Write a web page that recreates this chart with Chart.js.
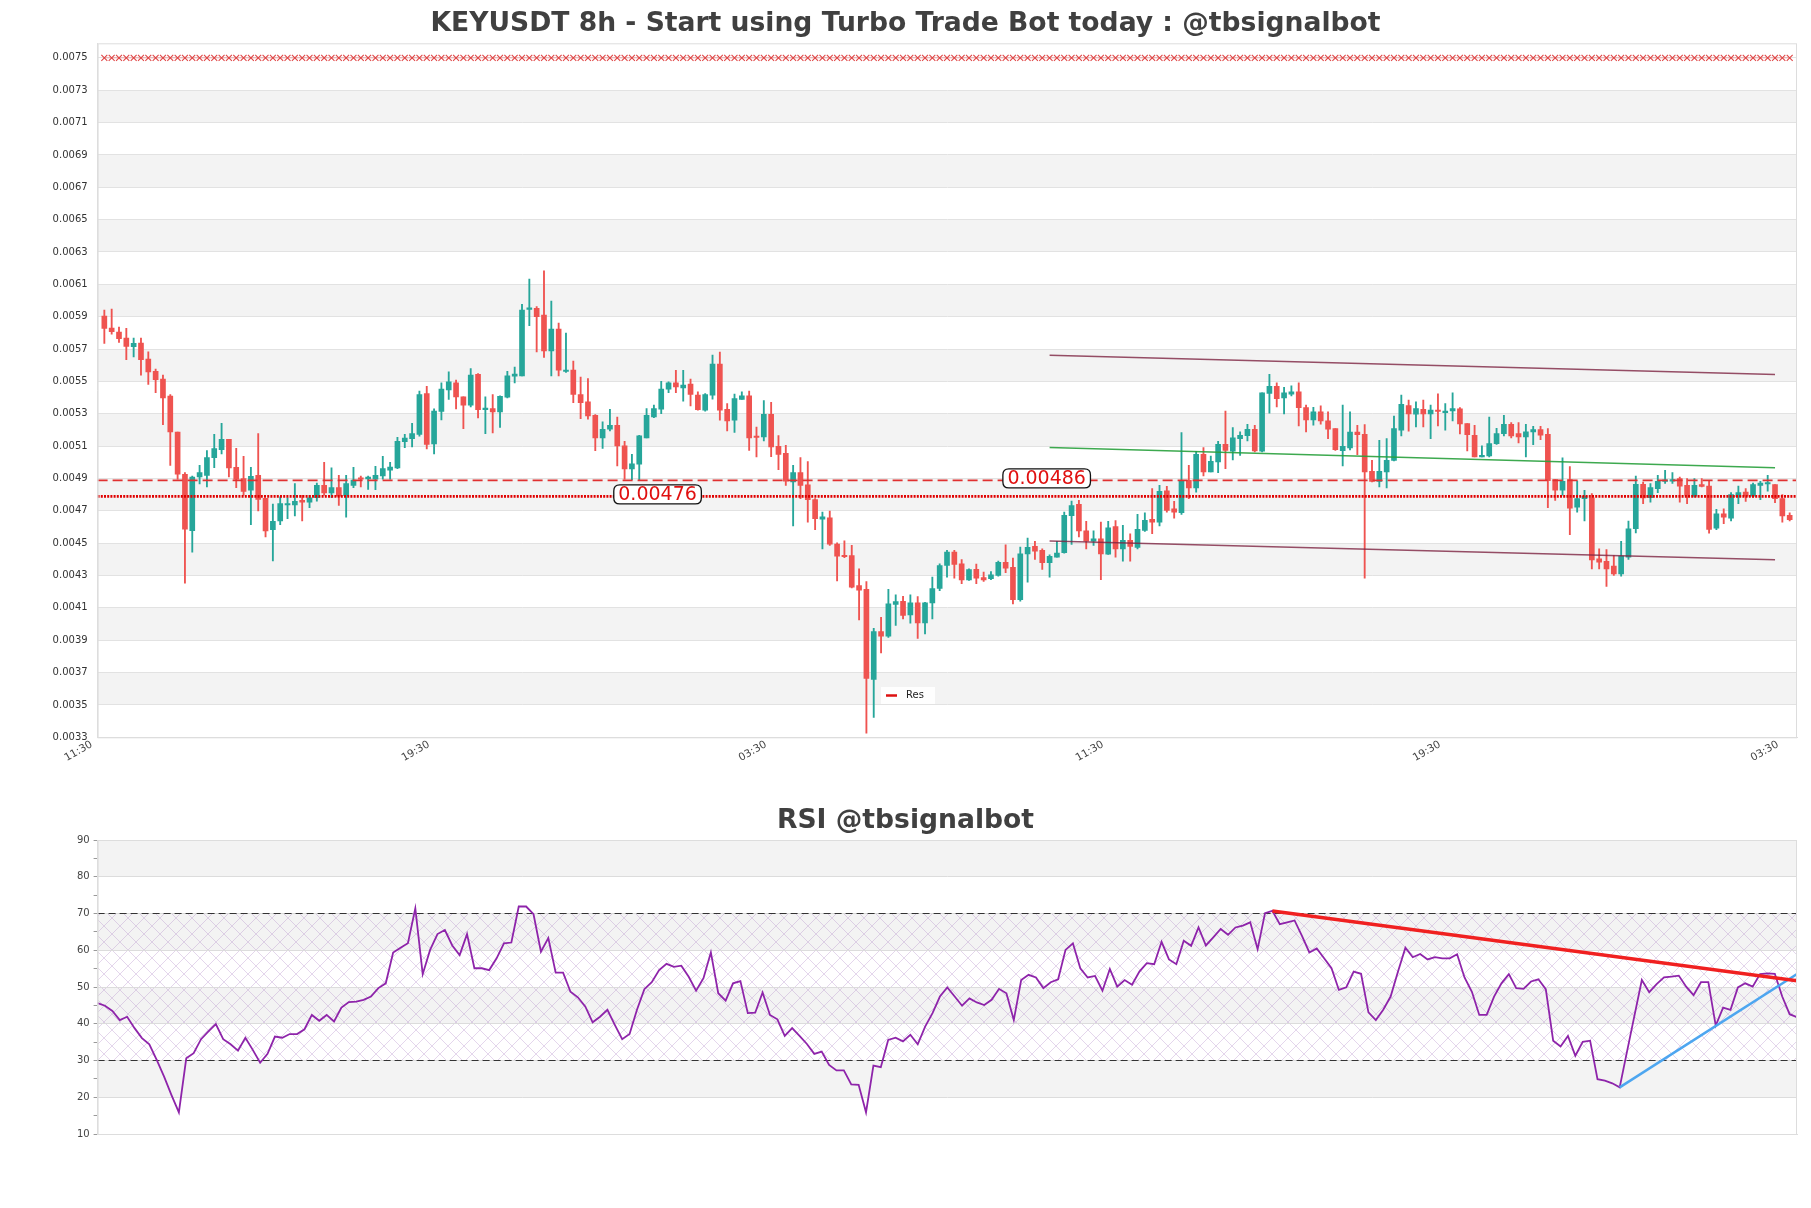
<!DOCTYPE html>
<html>
<head>
<meta charset="utf-8">
<title>KEYUSDT 8h</title>
<script src="https://cdn.jsdelivr.net/npm/chart.js@4.4.1/dist/chart.umd.min.js"></script>
<style>
  html, body { margin: 0; padding: 0; background: #fff; }
  #wrap { position: relative; width: 1811px; height: 1208px; }
  canvas { position: absolute; left: 0; }
  #priceChart { top: 0; }
  #rsiChart { top: 790px; }
</style>
</head>
<body>
<div id="wrap">
  <canvas id="priceChart" width="1811" height="790"></canvas>
  <canvas id="rsiChart" width="1811" height="418"></canvas>
</div>
<script>
// candle data (one candle per index)
const open = [
0.005904,0.005830,0.005805,0.005768,0.005714,0.005737,0.005638,0.005563,0.005514,0.005409,
0.005186,0.004926,0.004577,0.004909,0.004919,0.005029,0.005078,0.005142,0.004969,0.004899,
0.004827,0.004919,0.004777,0.004583,0.004637,0.004736,0.004736,0.004765,0.004754,0.004781,
0.004857,0.004810,0.004843,0.004794,0.004857,0.004903,0.004897,0.004895,0.004915,0.004952,
0.004965,0.005128,0.005146,0.005173,0.005425,0.005113,0.005314,0.005448,0.005491,0.005404,
0.005353,0.005543,0.005326,0.005332,0.005312,0.005402,0.005532,0.005534,0.005945,0.005951,
0.005910,0.005689,0.005823,0.005561,0.005570,0.005419,0.005373,0.005291,0.005151,0.005204,
0.005229,0.005101,0.004959,0.004988,0.005151,0.005281,0.005328,0.005452,0.005491,0.005460,
0.005483,0.005415,0.005322,0.005415,0.005607,0.005328,0.005260,0.005388,0.005411,0.005159,
0.005157,0.005297,0.005099,0.005056,0.004878,0.004936,0.004860,0.004769,0.004649,0.004657,
0.004494,0.004422,0.004424,0.004238,0.004214,0.003658,0.003953,0.003925,0.004121,0.004141,
0.004057,0.004131,0.004007,0.004131,0.004220,0.004362,0.004445,0.004372,0.004273,0.004339,
0.004288,0.004280,0.004300,0.004381,0.004350,0.004150,0.004434,0.004480,0.004455,0.004379,
0.004414,0.004441,0.004670,0.004740,0.004577,0.004513,0.004527,0.004432,0.004602,0.004465,
0.004517,0.004474,0.004579,0.004647,0.004630,0.004824,0.004713,0.004688,0.004888,0.004841,
0.005049,0.004940,0.005002,0.005111,0.005068,0.005146,0.005165,0.005204,0.005068,0.005425,
0.005470,0.005398,0.005421,0.005435,0.005338,0.005262,0.005312,0.005256,0.005208,0.005072,
0.005089,0.005186,0.005173,0.004944,0.004882,0.004940,0.005012,0.005198,0.005351,0.005297,
0.005328,0.005299,0.005322,0.005307,0.005318,0.005330,0.005239,0.005167,0.005033,0.005039,
0.005115,0.005177,0.005235,0.005177,0.005157,0.005188,0.005202,0.005173,0.004893,0.004827,
0.004893,0.004723,0.004775,0.004781,0.004403,0.004387,0.004358,0.004310,0.004414,0.004589,
0.004864,0.004781,0.004837,0.004882,0.004884,0.004899,0.004857,0.004791,0.004862,0.004853,
0.004593,0.004682,0.004655,0.004787,0.004816,0.004791,0.004857,0.004866,0.004862,0.004775,
0.004672
];
const high = [
0.005941,0.005947,0.005836,0.005828,0.005768,0.005768,0.005683,0.005576,0.005539,0.005419,
0.005186,0.004936,0.004915,0.004981,0.005072,0.005173,0.005241,0.005142,0.005087,0.005037,
0.004969,0.005177,0.004777,0.004742,0.004787,0.004781,0.004868,0.004796,0.004796,0.004872,
0.005000,0.004965,0.004919,0.004919,0.004969,0.004915,0.004915,0.004975,0.005037,0.005000,
0.005155,0.005173,0.005241,0.005440,0.005470,0.005330,0.005491,0.005559,0.005508,0.005404,
0.005580,0.005549,0.005404,0.005419,0.005411,0.005563,0.005588,0.005976,0.006133,0.005962,
0.006183,0.005997,0.005861,0.005799,0.005625,0.005526,0.005518,0.005295,0.005250,0.005328,
0.005279,0.005130,0.005049,0.005167,0.005332,0.005353,0.005501,0.005497,0.005568,0.005568,
0.005514,0.005435,0.005425,0.005662,0.005681,0.005363,0.005421,0.005435,0.005440,0.005217,
0.005382,0.005371,0.005165,0.005105,0.004981,0.005029,0.005004,0.004775,0.004692,0.004699,
0.004502,0.004515,0.004486,0.004341,0.004263,0.003974,0.004042,0.004214,0.004180,0.004172,
0.004180,0.004170,0.004135,0.004290,0.004372,0.004455,0.004455,0.004399,0.004341,0.004370,
0.004321,0.004325,0.004389,0.004490,0.004408,0.004476,0.004531,0.004511,0.004465,0.004428,
0.004511,0.004692,0.004760,0.004765,0.004635,0.004577,0.004630,0.004635,0.004639,0.004610,
0.004558,0.004678,0.004688,0.004837,0.004857,0.004851,0.004758,0.005184,0.004981,0.005068,
0.005091,0.005039,0.005130,0.005316,0.005215,0.005188,0.005235,0.005229,0.005429,0.005543,
0.005491,0.005464,0.005472,0.005491,0.005353,0.005340,0.005349,0.005312,0.005208,0.005353,
0.005312,0.005229,0.005233,0.005012,0.005136,0.005146,0.005285,0.005415,0.005384,0.005373,
0.005384,0.005353,0.005423,0.005363,0.005429,0.005338,0.005239,0.005229,0.005101,0.005279,
0.005210,0.005291,0.005246,0.005246,0.005235,0.005223,0.005223,0.005208,0.004893,0.005027,
0.004973,0.004884,0.004827,0.004806,0.004465,0.004461,0.004424,0.004511,0.004637,0.004915,
0.004878,0.004868,0.004919,0.004950,0.004936,0.004909,0.004899,0.004899,0.004899,0.004882,
0.004709,0.004713,0.004812,0.004853,0.004837,0.004872,0.004882,0.004919,0.004862,0.004800,
0.004688
];
const low = [
0.005735,0.005792,0.005741,0.005634,0.005652,0.005539,0.005481,0.005431,0.005233,0.004981,
0.004895,0.004253,0.004445,0.004866,0.004847,0.004967,0.005052,0.004909,0.004843,0.004796,
0.004614,0.004699,0.004538,0.004391,0.004614,0.004651,0.004668,0.004637,0.004719,0.004760,
0.004796,0.004781,0.004734,0.004661,0.004843,0.004847,0.004833,0.004831,0.004895,0.004895,
0.004961,0.005091,0.005095,0.005161,0.005082,0.005052,0.005262,0.005388,0.005330,0.005208,
0.005343,0.005274,0.005177,0.005182,0.005215,0.005398,0.005491,0.005534,0.005844,0.005683,
0.005648,0.005534,0.005534,0.005555,0.005369,0.005270,0.005266,0.005072,0.005085,0.005194,
0.004977,0.004895,0.004893,0.004886,0.005151,0.005276,0.005301,0.005431,0.005431,0.005378,
0.005349,0.005322,0.005316,0.005390,0.005260,0.005194,0.005184,0.005388,0.005074,0.005033,
0.005132,0.005035,0.004954,0.004857,0.004606,0.004775,0.004630,0.004583,0.004465,0.004486,
0.004267,0.004410,0.004224,0.004026,0.003326,0.003423,0.003821,0.003918,0.003991,0.004032,
0.004005,0.003912,0.003939,0.004032,0.004207,0.004290,0.004284,0.004249,0.004269,0.004249,
0.004263,0.004275,0.004296,0.004317,0.004125,0.004141,0.004259,0.004399,0.004337,0.004290,
0.004414,0.004438,0.004492,0.004538,0.004465,0.004486,0.004275,0.004430,0.004414,0.004389,
0.004389,0.004465,0.004573,0.004558,0.004606,0.004692,0.004655,0.004678,0.004775,0.004816,
0.004915,0.004940,0.004936,0.004961,0.005014,0.005043,0.005132,0.005064,0.005064,0.005303,
0.005343,0.005299,0.005411,0.005225,0.005188,0.005229,0.005235,0.005146,0.005074,0.004977,
0.005076,0.005047,0.004284,0.004878,0.004847,0.004841,0.005008,0.005163,0.005192,0.005219,
0.005219,0.005146,0.005225,0.005198,0.005256,0.005175,0.005070,0.005033,0.005033,0.005033,
0.005111,0.005163,0.005151,0.005120,0.005033,0.005109,0.005140,0.004719,0.004765,0.004796,
0.004552,0.004692,0.004637,0.004341,0.004341,0.004232,0.004300,0.004296,0.004399,0.004564,
0.004744,0.004754,0.004812,0.004870,0.004870,0.004754,0.004744,0.004785,0.004847,0.004562,
0.004583,0.004620,0.004637,0.004744,0.004758,0.004785,0.004769,0.004822,0.004750,0.004630,
0.004637
];
const close = [
0.005828,0.005807,0.005764,0.005716,0.005735,0.005634,0.005559,0.005510,0.005398,0.005188,
0.004926,0.004587,0.004909,0.004936,0.005029,0.005085,0.005142,0.004965,0.004895,0.004820,
0.004913,0.004771,0.004575,0.004635,0.004744,0.004740,0.004758,0.004754,0.004781,0.004857,
0.004810,0.004843,0.004791,0.004868,0.004890,0.004895,0.004909,0.004919,0.004961,0.004971,
0.005130,0.005149,0.005177,0.005419,0.005111,0.005316,0.005452,0.005497,0.005404,0.005353,
0.005539,0.005326,0.005332,0.005312,0.005407,0.005534,0.005545,0.005941,0.005949,0.005900,
0.005689,0.005823,0.005570,0.005568,0.005419,0.005369,0.005287,0.005151,0.005204,0.005229,
0.005101,0.004959,0.004990,0.005163,0.005291,0.005332,0.005452,0.005491,0.005466,0.005477,
0.005419,0.005326,0.005419,0.005607,0.005322,0.005256,0.005394,0.005411,0.005151,0.005153,
0.005297,0.005095,0.005049,0.004884,0.004936,0.004857,0.004769,0.004651,0.004663,0.004494,
0.004420,0.004416,0.004228,0.004209,0.003664,0.003953,0.003925,0.004125,0.004139,0.004053,
0.004131,0.004007,0.004131,0.004220,0.004362,0.004445,0.004368,0.004273,0.004337,0.004284,
0.004273,0.004304,0.004381,0.004346,0.004150,0.004434,0.004474,0.004451,0.004379,0.004418,
0.004438,0.004672,0.004732,0.004575,0.004513,0.004527,0.004434,0.004595,0.004465,0.004517,
0.004480,0.004585,0.004641,0.004630,0.004820,0.004703,0.004692,0.004888,0.004841,0.005049,
0.004940,0.005006,0.005111,0.005074,0.005151,0.005167,0.005204,0.005070,0.005429,0.005470,
0.005394,0.005429,0.005435,0.005338,0.005262,0.005312,0.005256,0.005204,0.005078,0.005099,
0.005186,0.005171,0.004940,0.004882,0.004944,0.005012,0.005208,0.005359,0.005299,0.005332,
0.005299,0.005322,0.005314,0.005312,0.005332,0.005237,0.005171,0.005033,0.005043,0.005115,
0.005177,0.005235,0.005163,0.005157,0.005188,0.005202,0.005167,0.004886,0.004827,0.004882,
0.004717,0.004775,0.004789,0.004397,0.004383,0.004341,0.004310,0.004420,0.004589,0.004864,
0.004779,0.004843,0.004882,0.004888,0.004893,0.004853,0.004796,0.004857,0.004851,0.004585,
0.004682,0.004661,0.004800,0.004812,0.004791,0.004862,0.004872,0.004872,0.004775,0.004668,
0.004645
];

// RSI, one value per candle
const rsi = [
45.6,44.9,43.5,41.0,41.9,38.8,36.1,34.4,30.2,25.6,
20.6,15.9,30.6,32.0,35.8,37.9,39.9,35.8,34.4,32.7,
36.2,32.9,29.4,31.8,36.5,36.2,37.2,37.2,38.5,42.4,
40.8,42.4,40.6,44.4,45.9,46.0,46.5,47.4,49.7,51.0,
59.4,60.7,61.9,71.4,53.5,60.1,64.4,65.5,61.3,58.7,
64.4,55.1,55.1,54.6,57.8,61.9,62.1,71.9,71.9,69.8,
59.6,63.3,53.9,53.9,48.7,47.2,44.7,40.4,41.9,43.8,
39.7,35.8,37.2,43.8,49.4,51.3,54.6,56.3,55.5,55.8,
52.8,49.0,52.4,59.4,48.3,46.3,51.0,51.6,42.9,43.0,
48.5,42.4,41.2,36.7,38.8,36.7,34.5,31.8,32.4,28.8,
27.3,27.3,23.5,23.4,15.9,28.6,28.2,35.6,36.2,35.2,
37.0,34.4,39.2,42.9,47.4,49.9,47.4,44.9,46.9,45.8,
45.1,46.5,49.5,48.3,41.0,51.9,53.3,52.6,49.7,51.3,
52.1,60.1,61.9,55.1,52.6,53.0,49.0,54.9,50.1,51.9,
50.6,54.2,56.5,56.2,62.3,57.5,56.2,62.6,61.2,66.2,
61.3,63.5,65.8,64.2,66.2,66.7,67.6,60.3,70.1,70.7,
67.1,67.6,68.1,63.9,59.4,60.5,57.8,55.1,49.2,49.9,
54.2,53.6,43.1,41.0,43.8,47.4,54.2,60.7,58.1,59.0,
57.5,58.1,57.8,57.8,58.9,52.6,48.7,42.4,42.4,47.4,
51.0,53.5,49.7,49.5,51.5,52.1,49.4,35.4,33.8,36.7,
31.3,35.1,35.4,24.9,24.5,23.8,22.7,32.5,42.2,51.9,
48.6,50.8,52.6,52.8,53.1,50.1,47.8,51.3,51.3,39.5,
44.4,43.8,49.9,51.0,50.1,53.5,53.7,53.6,47.4,42.6,
41.8
];

// axis ticks
const timeLabels = ['11:30', '19:30', '03:30', '11:30', '19:30', '03:30'];
const timeTickIdx = [-0.92, 45.1, 91.1, 137.1, 183.1, 229.2];
const priceTicks = [0.0033,0.0035,0.0037,0.0039,0.0041,0.0043,0.0045,0.0047,0.0049,0.0051,0.0053,
                    0.0055,0.0057,0.0059,0.0061,0.0063,0.0065,0.0067,0.0069,0.0071,0.0073,0.0075];
const rsiTicks = [10,15,20,25,30,35,40,45,50,55,60,65,70,75,80,85,90];

// levels and trend lines
const resLevel = 0.0075;
const dashedLevel = 0.004888;
const dottedLevel = 0.004789;
const levelLabels = ['0.00476', '0.00486'];
const levelLabelIdx = [75.5, 128.6];
const channelX = [129, 228];
const channelUpper = [0.005662, 0.005543];
const channelMid = [0.005091, 0.004967];
const channelLower = [0.004513, 0.004397];
const rsiLevels = [70, 30];
const rsiDownX = [159, 230];
const rsiDownY = [70.7, 51.7];
const rsiUpX = [206, 230];
const rsiUpY = [22.7, 53.5];

const xMin = -0.92;
const xMax = 231.0;
const UP = '#26a69a';
const DOWN = '#ef5350';

Chart.defaults.font.family = "'DejaVu Sans', sans-serif";

const candleColors = open.map((o, i) => (close[i] >= o ? UP : DOWN));

function seg(xs, ys) {
  return xs.map((x, i) => ({ x: x, y: ys[i] }));
}

function drawTitle(chart, text, y) {
  const ctx = chart.ctx;
  ctx.save();
  ctx.font = "bold 26.6px 'DejaVu Sans'";
  ctx.fillStyle = '#404040';
  ctx.textAlign = 'center';
  ctx.textBaseline = 'middle';
  ctx.fillText(text, chart.width / 2, y);
  ctx.restore();
}

function drawFrame(chart) {
  const { ctx, chartArea: a } = chart;
  ctx.save();
  ctx.strokeStyle = '#dddddd';
  ctx.lineWidth = 1;
  ctx.strokeRect(a.left + 0.5, a.top + 0.5, a.right - a.left - 1, a.bottom - a.top);
  ctx.restore();
}

function roundRect(ctx, x, y, w, h, r) {
  ctx.beginPath();
  ctx.moveTo(x + r, y);
  ctx.lineTo(x + w - r, y);
  ctx.quadraticCurveTo(x + w, y, x + w, y + r);
  ctx.lineTo(x + w, y + h - r);
  ctx.quadraticCurveTo(x + w, y + h, x + w - r, y + h);
  ctx.lineTo(x + r, y + h);
  ctx.quadraticCurveTo(x, y + h, x, y + h - r);
  ctx.lineTo(x, y + r);
  ctx.quadraticCurveTo(x, y, x + r, y);
  ctx.closePath();
}

const priceDecor = {
  id: 'priceDecor',
  beforeDraw(chart) {
    const { ctx, chartArea: a, scales: { y } } = chart;
    ctx.save();
    ctx.fillStyle = '#f3f3f3';
    for (let k = 1; k < priceTicks.length - 1; k += 2) {
      const top = y.getPixelForValue(priceTicks[k + 1]);
      const bot = y.getPixelForValue(priceTicks[k]);
      ctx.fillRect(a.left, top, a.right - a.left, bot - top);
    }
    ctx.restore();
  },
  afterDatasetsDraw(chart) {
    const { ctx, scales: { x, y } } = chart;
    const levels = [dottedLevel, dashedLevel];
    ctx.save();
    ctx.font = "19px 'DejaVu Sans'";
    ctx.textAlign = 'center';
    ctx.textBaseline = 'middle';
    levelLabels.forEach((txt, i) => {
      const cx = x.getPixelForValue(levelLabelIdx[i]);
      const cy = y.getPixelForValue(levels[i]) - 2;
      const w = ctx.measureText(txt).width + 9;
      const h = 19;
      roundRect(ctx, cx - w / 2, cy - h / 2, w, h, 6);
      ctx.fillStyle = '#ffffff';
      ctx.fill();
      ctx.strokeStyle = '#111111';
      ctx.lineWidth = 1.3;
      ctx.stroke();
      ctx.fillStyle = '#e01010';
      ctx.fillText(txt, cx, cy + 1);
    });
    // legend
    ctx.fillStyle = 'rgba(255,255,255,0.85)';
    ctx.fillRect(881, 687, 54, 17);
    ctx.strokeStyle = '#dd1111';
    ctx.lineWidth = 2.5;
    ctx.beginPath();
    ctx.moveTo(886, 695.5);
    ctx.lineTo(897, 695.5);
    ctx.stroke();
    ctx.font = "10px 'DejaVu Sans'";
    ctx.textAlign = 'left';
    ctx.fillStyle = '#222222';
    ctx.fillText('Res', 906, 695.5);
    ctx.restore();
  },
  afterDraw(chart) {
    drawFrame(chart);
    drawTitle(chart, 'KEYUSDT 8h - Start using Turbo Trade Bot today : @tbsignalbot', 24.5);
  }
};

let hatch = null;
function getHatch(ctx) {
  if (hatch) return hatch;
  const c = document.createElement('canvas');
  c.width = 16;
  c.height = 16;
  const g = c.getContext('2d');
  g.strokeStyle = 'rgba(170,125,195,0.4)';
  g.lineWidth = 0.8;
  g.beginPath();
  g.moveTo(0, 0); g.lineTo(16, 16);
  g.moveTo(16, 0); g.lineTo(0, 16);
  g.stroke();
  hatch = ctx.createPattern(c, 'repeat');
  return hatch;
}

const rsiDecor = {
  id: 'rsiDecor',
  beforeDraw(chart) {
    const { ctx, chartArea: a, scales: { y } } = chart;
    const bands = [[20, 30], [40, 50], [60, 70], [80, 90]];
    ctx.save();
    ctx.fillStyle = '#f3f3f3';
    bands.forEach(b => {
      const top = y.getPixelForValue(b[1]);
      const bot = y.getPixelForValue(b[0]);
      ctx.fillRect(a.left, top, a.right - a.left, bot - top);
    });
    ctx.fillStyle = getHatch(ctx);
    const t = y.getPixelForValue(70);
    const b = y.getPixelForValue(30);
    ctx.fillRect(a.left, t, a.right - a.left, b - t);
    ctx.restore();
  },
  afterDraw(chart) {
    drawFrame(chart);
    drawTitle(chart, 'RSI @tbsignalbot', 30.7);
  }
};

// price chart
new Chart(document.getElementById('priceChart'), {
  type: 'bar',
  data: {
    datasets: [
      {
        type: 'line', data: seg([xMin, xMax], [dottedLevel, dottedLevel]),
        borderColor: '#e00000', borderWidth: 2.6, borderDash: [2, 1.2], pointRadius: 0
      },
      {
        type: 'line', data: seg([xMin, xMax], [dashedLevel, dashedLevel]),
        borderColor: '#e03030', borderWidth: 1.6, borderDash: [10, 5], pointRadius: 0
      },
      {
        type: 'line', data: open.map((_, i) => ({ x: i, y: resLevel })),
        borderColor: 'rgba(230,90,90,0.45)', borderWidth: 1,
        pointStyle: 'crossRot', pointRadius: 4.2, pointBorderColor: '#e04545', pointBorderWidth: 1.1
      },
      {
        type: 'line', data: seg(channelX, channelUpper),
        borderColor: 'rgba(125,35,65,0.8)', borderWidth: 1.5, pointRadius: 0
      },
      {
        type: 'line', data: seg(channelX, channelMid),
        borderColor: 'rgba(40,160,60,0.9)', borderWidth: 1.5, pointRadius: 0
      },
      {
        type: 'line', data: seg(channelX, channelLower),
        borderColor: 'rgba(125,35,65,0.8)', borderWidth: 1.5, pointRadius: 0
      },
      {
        label: 'body', grouped: false, barThickness: 5, minBarLength: 1.5,
        data: open.map((o, i) => ({ x: i, y: [o, close[i]] })),
        backgroundColor: candleColors, borderWidth: 0
      },
      {
        label: 'wick', grouped: false, barThickness: 1.2,
        data: open.map((o, i) => ({ x: i, y: [low[i], high[i]] })),
        backgroundColor: candleColors, borderWidth: 0
      }
    ]
  },
  options: {
    responsive: false,
    animation: false,
    events: [],
    layout: { padding: { left: 0, right: 14, top: 43.3, bottom: 12.7 } },
    plugins: { legend: { display: false }, tooltip: { enabled: false }, title: { display: false } },
    scales: {
      x: {
        type: 'linear', min: xMin, max: xMax, offset: false,
        afterBuildTicks: axis => { axis.ticks = timeTickIdx.map(v => ({ value: v })); },
        afterFit: axis => { axis.height = 40; },
        ticks: {
          autoSkip: false, minRotation: 30, maxRotation: 30, padding: 1, labelOffset: -6,
          color: '#444444', font: { size: 10.5 },
          callback: (v, i) => timeLabels[i]
        },
        grid: { display: false, drawTicks: false },
        border: { color: '#dddddd' }
      },
      y: {
        type: 'linear', min: 0.0033, max: 0.00759,
        afterBuildTicks: axis => { axis.ticks = priceTicks.map(v => ({ value: v })); },
        afterFit: axis => { axis.width = 97.6; },
        ticks: { color: '#333333', font: { size: 10 }, padding: 10, callback: v => v.toFixed(4) },
        grid: { color: '#e2e2e2', drawTicks: false },
        border: { color: '#dddddd' }
      }
    }
  },
  plugins: [priceDecor]
});

// RSI chart
new Chart(document.getElementById('rsiChart'), {
  type: 'line',
  data: {
    datasets: [
      {
        data: seg(rsiDownX, rsiDownY),
        borderColor: '#f02020', borderWidth: 3.5, pointRadius: 0
      },
      {
        data: seg(rsiUpX, rsiUpY),
        borderColor: '#4da6f0', borderWidth: 2.5, pointRadius: 0
      },
      {
        data: rsi.map((v, i) => ({ x: i, y: v })),
        borderColor: '#8e24aa', borderWidth: 1.8, pointRadius: 0, tension: 0
      },
      {
        data: seg([0, 230], [rsiLevels[0], rsiLevels[0]]),
        borderColor: '#333333', borderWidth: 1.2, borderDash: [7, 4], pointRadius: 0
      },
      {
        data: seg([0, 230], [rsiLevels[1], rsiLevels[1]]),
        borderColor: '#333333', borderWidth: 1.2, borderDash: [7, 4], pointRadius: 0
      }
    ]
  },
  options: {
    responsive: false,
    animation: false,
    events: [],
    layout: { padding: { left: 0, right: 14, top: 50, bottom: 74 } },
    plugins: { legend: { display: false }, tooltip: { enabled: false }, title: { display: false } },
    scales: {
      x: {
        type: 'linear', min: 0, max: 230,
        ticks: { display: false },
        grid: { display: false },
        border: { color: '#dddddd' },
        afterFit: axis => { axis.height = 0; }
      },
      y: {
        type: 'linear', min: 10, max: 90,
        afterBuildTicks: axis => { axis.ticks = rsiTicks.map(v => ({ value: v })); },
        afterFit: axis => { axis.width = 97.6; },
        ticks: {
          color: '#444444', font: { size: 10 }, padding: 4,
          callback: v => (v % 10 === 0 ? String(v) : '')
        },
        grid: {
          color: c => (c.tick && c.tick.value % 10 === 0 ? '#dcdcdc' : 'rgba(0,0,0,0)'),
          tickColor: '#999999', tickLength: 4
        },
        border: { color: '#dddddd' }
      }
    }
  },
  plugins: [rsiDecor]
});
</script>
</body>
</html>
